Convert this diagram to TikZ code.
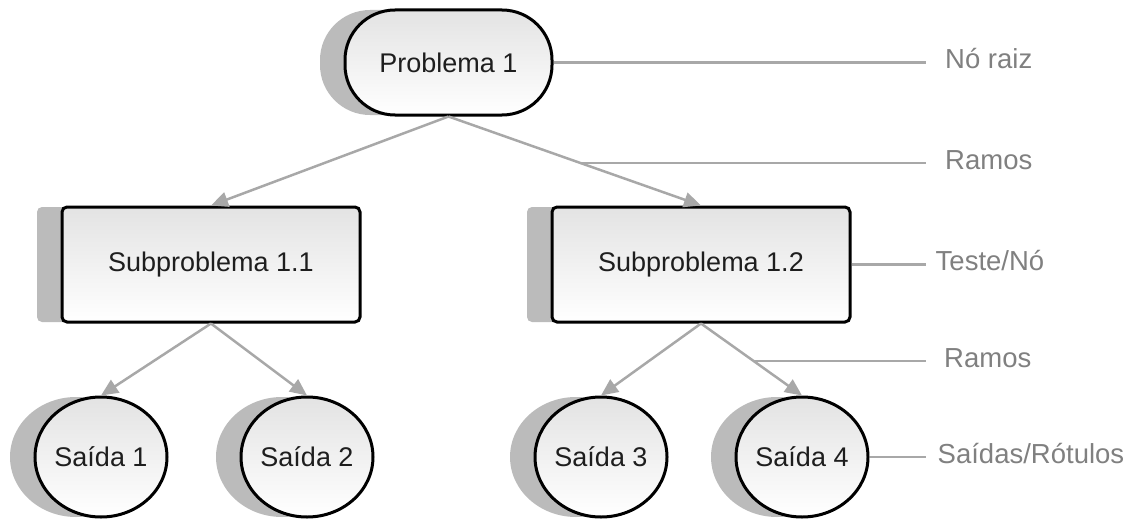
\documentclass[tikz,border=0pt]{standalone}
\usepackage{fontspec}
\setmainfont{Liberation Sans}
\usetikzlibrary{arrows.meta,shadows,shapes.geometric}
\definecolor{shadowgray}{HTML}{BBBBBB}
\definecolor{edgegray}{HTML}{A8A8A8}
\definecolor{labelgray}{HTML}{808080}
\definecolor{nodetop}{HTML}{E3E3E3}
\definecolor{inktext}{HTML}{1E1E1E}

\begin{document}
\begin{tikzpicture}[x=1pt,y=-1pt,
  box/.style={draw=black, line width=3pt, top color=nodetop, bottom color=white,
    inner sep=0pt, text=inktext, font=\fontsize{27}{32}\selectfont,
    general shadow={fill=shadowgray, shadow xshift=-25pt, shadow yshift=0pt}},
  rootbox/.style={box, rectangle, rounded corners=50pt, minimum width=207pt, minimum height=105pt},
  testbox/.style={box, rectangle, rounded corners=5pt, minimum width=298pt, minimum height=115pt},
  leaf/.style={box, ellipse, minimum width=132pt, minimum height=120pt},
  branch/.style={draw=edgegray, line width=2.5pt, -{Triangle[length=17pt,width=15pt]}},
  guide/.style={draw=edgegray, line width=2.5pt},
  tag/.style={text=labelgray, font=\fontsize{27.5}{32}\selectfont, anchor=base west, inner sep=0pt}
]
\useasboundingbox (0,0) rectangle (1140,519);

% tree nodes
\node[rootbox] (root) at (448.5,62.5) {Problema 1};
\node[testbox] (sub1) at (211,264.5) {Subproblema 1.1};
\node[testbox] (sub2) at (701,264.5) {Subproblema 1.2};
\node[leaf] (s1) at (101,457) {Saída 1};
\node[leaf] (s2) at (307,457) {Saída 2};
\node[leaf] (s3) at (601,457) {Saída 3};
\node[leaf] (s4) at (802,457) {Saída 4};

% branches
\draw[branch] (root.south) -- (sub1.north);
\draw[branch] (root.south) -- coordinate[pos=0.52] (r1) (sub2.north);
\draw[branch] (sub1.south) -- (s1.north);
\draw[branch] (sub1.south) -- (s2.north);
\draw[branch] (sub2.south) -- (s3.north);
\draw[branch] (sub2.south) -- coordinate[pos=0.52] (r2) (s4.north);

% legend
\coordinate (rim) at (926,0);
\node[tag] (tRoot) at (945,69) {Nó raiz};
\node[tag] (tBr1) at (945,169) {Ramos};
\node[tag] (tTest) at (935.5,270) {Teste/Nó};
\node[tag] (tBr2) at (944,367) {Ramos};
\node[tag] (tOut) at (937.5,463) {Saídas/Rótulos};

\draw[guide] (root.east) -- (root.east -| rim);
\draw[guide] (r1) -- (r1 -| rim);
\draw[guide] (sub2.east) -- (sub2.east -| rim);
\draw[guide] (r2) -- (r2 -| rim);
\draw[guide] (s4.east) -- (s4.east -| rim);
\end{tikzpicture}
\end{document}
